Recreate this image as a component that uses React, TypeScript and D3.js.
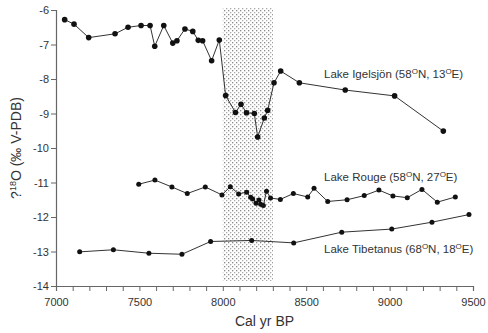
import React, { useEffect, useRef } from 'react'
import * as d3 from 'd3'

// Lake Igelsjön
const igelsjonAge = [7052, 7108, 7196, 7354, 7432, 7510, 7564, 7592, 7646, 7700, 7725, 7773, 7820, 7853, 7879, 7933, 7979, 8017, 8076, 8109, 8142, 8189, 8209, 8249, 8269, 8307, 8347, 8459, 8734, 9030, 9322]
const igelsjonD18O = [-6.28, -6.41, -6.80, -6.69, -6.50, -6.45, -6.45, -7.05, -6.45, -6.96, -6.89, -6.55, -6.62, -6.88, -6.89, -7.47, -6.87, -8.48, -8.97, -8.73, -8.98, -9.00, -9.68, -9.13, -8.91, -8.11, -7.77, -8.11, -8.32, -8.49, -9.51]

// Lake Rouge
const rougeAge = [7496, 7593, 7695, 7787, 7895, 7995, 8045, 8095, 8143, 8167, 8179, 8199, 8217, 8227, 8243, 8262, 8286, 8345, 8423, 8509, 8547, 8629, 8745, 8848, 8936, 9020, 9106, 9194, 9286, 9394]
const rougeD18O = [-11.05, -10.93, -11.13, -11.32, -11.13, -11.36, -11.12, -11.33, -11.28, -11.43, -11.48, -11.60, -11.51, -11.63, -11.67, -11.25, -11.45, -11.49, -11.32, -11.42, -11.17, -11.55, -11.50, -11.38, -11.22, -11.39, -11.44, -11.20, -11.57, -11.42]

// Lake Tibetanus
const tibetanusAge = [7142, 7344, 7557, 7755, 7927, 8173, 8425, 8713, 9013, 9254, 9476]
const tibetanusD18O = [-13.01, -12.95, -13.05, -13.08, -12.71, -12.68, -12.75, -12.44, -12.35, -12.15, -11.93]

// 8.2 ka event window
const eventWindow = [8000, 8300]

const xTicks = [7000, 7500, 8000, 8500, 9000, 9500]
const yTicks = [-6, -7, -8, -9, -10, -11, -12, -13, -14]

const series = [
    { name: 'Lake Igelsjön', lat: '58', lon: '13', ages: igelsjonAge, values: igelsjonD18O, r: 2.8 },
    { name: 'Lake Rouge', lat: '58', lon: '27', ages: rougeAge, values: rougeD18O, r: 2.5 },
    { name: 'Lake Tibetanus', lat: '68', lon: '18', ages: tibetanusAge, values: tibetanusD18O, r: 2.5 },
]

// label anchors in data units
const labelPos = [
    { x: 8607, y: -7.97 },
    { x: 8607, y: -10.96 },
    { x: 8607, y: -13.04 },
]

const svgWidth = 488
const svgHeight = 333
const margin = { top: 10, right: 15, bottom: 47, left: 56 }
const font = '"Liberation Sans", Arial, sans-serif'

function App() {
    const ref = useRef<SVGSVGElement>(null)

    useEffect(() => {
        const svg = d3.select(ref.current)
        svg.selectAll('*').remove()
        const width = svgWidth - margin.left - margin.right
        const height = svgHeight - margin.top - margin.bottom

        const x = d3.scaleLinear().domain([7000, 9500]).range([0, width])
        const y = d3.scaleLinear().domain([-14, -6]).range([height, 0])

        // dotted fill for the shaded band
        const defs = svg.append('defs')
        const pat = defs.append('pattern')
            .attr('id', 'dots')
            .attr('patternUnits', 'userSpaceOnUse')
            .attr('width', 4)
            .attr('height', 4)
        pat.append('rect').attr('x', 0).attr('y', 0).attr('width', 1.3).attr('height', 1.3).attr('fill', '#888')
        pat.append('rect').attr('x', 2).attr('y', 2).attr('width', 1.3).attr('height', 1.3).attr('fill', '#aaa')

        const g = svg.append('g').attr('transform', `translate(${margin.left}, ${margin.top})`)

        g.append('rect')
            .attr('x', x(eventWindow[0]))
            .attr('y', y(-6) - 2)
            .attr('width', x(eventWindow[1]) - x(eventWindow[0]))
            .attr('height', y(-14) - y(-6) - 3)
            .attr('fill', 'url(#dots)')

        // axes
        const xAxis = g.append('g')
            .attr('transform', `translate(0, ${height})`)
            .call(d3.axisBottom(x).tickValues(d3.range(7000, 9501, 100)).tickSize(5).tickFormat(d => xTicks.includes(+d) ? String(d) : ''))
        const yAxis = g.append('g')
            .call(d3.axisLeft(y).tickValues(yTicks).tickSize(5).tickFormat(d3.format('d')))

        ;[xAxis, yAxis].forEach(ax => {
            ax.select('.domain').attr('stroke', '#666').attr('stroke-width', 1.2)
            ax.selectAll('.tick line').attr('stroke', '#666')
            ax.selectAll('.tick text')
                .attr('fill', '#333')
                .attr('font-size', 11)
                .attr('font-family', font)
        })
        xAxis.selectAll('.tick text').attr('dy', '1.1em')
        yAxis.selectAll('.tick text').attr('x', -7).text(d => String(d))

        const line = d3.line<[number, number]>()
            .x(d => x(d[0]))
            .y(d => y(d[1]))

        series.forEach((s, i) => {
            const pts: [number, number][] = s.ages.map((a, k) => [a, s.values[k]])
            g.append('path')
                .attr('d', line(pts))
                .attr('fill', 'none')
                .attr('stroke', '#333')
                .attr('stroke-width', 1)
            g.selectAll(null)
                .data(pts)
                .enter()
                .append('circle')
                .attr('cx', d => x(d[0]))
                .attr('cy', d => y(d[1]))
                .attr('r', s.r)
                .attr('fill', '#111')

            const t = g.append('text')
                .attr('x', x(labelPos[i].x))
                .attr('y', y(labelPos[i].y))
                .attr('font-size', 11.5)
                .attr('font-family', font)
                .attr('fill', '#333')
            t.append('tspan').text(`${s.name} (${s.lat}`)
            t.append('tspan').attr('font-size', 8).attr('dy', -4).text('O')
            t.append('tspan').attr('dy', 4).text(`N, ${s.lon}`)
            t.append('tspan').attr('font-size', 8).attr('dy', -4).text('O')
            t.append('tspan').attr('dy', 4).text('E)')
        })

        // axis titles
        svg.append('text')
            .attr('x', margin.left + width / 2)
            .attr('y', 326)
            .attr('text-anchor', 'middle')
            .attr('font-size', 14)
            .attr('font-family', font)
            .attr('fill', '#333')
            .text('Cal yr BP')

        const yt = svg.append('text')
            .attr('transform', `translate(21, ${margin.top + height / 2}) rotate(-90)`)
            .attr('text-anchor', 'middle')
            .attr('font-size', 14)
            .attr('font-family', font)
            .attr('fill', '#333')
        yt.append('tspan').text('?')
        yt.append('tspan').attr('font-size', 9).attr('dy', -5).text('18')
        yt.append('tspan').attr('dy', 5).text('O (‰ V-PDB)')
    }, [])

    return (
        <svg ref={ref} width={svgWidth} height={svgHeight} style={{ display: 'block', position: 'absolute', left: 0, top: 0, background: '#fff' }} />
    )
}

export default App
